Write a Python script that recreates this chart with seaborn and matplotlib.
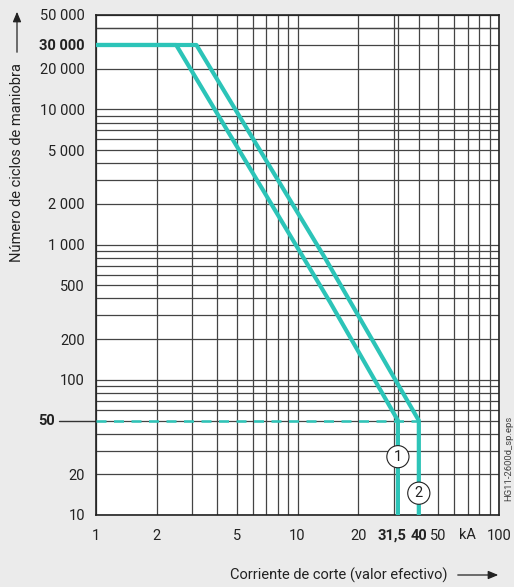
import seaborn as sns
import matplotlib.pyplot as plt
import matplotlib.patches as mpatches
import pandas as pd
from matplotlib.ticker import FixedLocator, NullFormatter
from matplotlib.transforms import ScaledTranslation

# curve data (kA, operations)
curve1_x = [1, 2.5, 14.5, 31.5, 31.5]
curve1_y = [30000, 30000, 376, 50, 10]
curve2_x = [1, 3.15, 13.7, 40, 40]
curve2_y = [30000, 30000, 796, 50, 10]
limit_x = [1, 40]
limit_y = [50, 50]

x_ticks = [1, 2, 5, 10, 20, 31.5, 40, 50, 100]
x_labels = ['1', '2', '5', '10', '20', '31,5', '40', '50', '100']
x_bold = ['31,5', '40']
y_ticks = [10, 20, 50, 100, 200, 500, 1000, 2000, 5000, 10000, 20000, 30000, 50000]
y_labels = ['10', '20', '', '100', '200', '500', '1 000', '2 000', '5 000',
            '10 000', '20 000', '30 000', '50 000']
y_bold = ['30 000']

marker_x = [31.5, 40]
marker_y = [27, 14.5]
marker_text = ['1', '2']

teal = '#2cc4b8'
grid_col = '#444444'
ink = '#222222'

sns.set_style('white')
plt.rcParams['font.family'] = ['Roboto', 'DejaVu Sans']
plt.rcParams['font.size'] = 10.5

fig = plt.figure(figsize=(5.14, 5.87), dpi=100, facecolor='#ebebeb')
ax = fig.add_axes([96/514, 72/587, 403/514, 500/587])
ax.set_facecolor('white')

df = pd.concat([
    pd.DataFrame({'x': curve1_x, 'y': curve1_y, 'curve': '1'}),
    pd.DataFrame({'x': curve2_x, 'y': curve2_y, 'curve': '2'}),
], ignore_index=True)

ax.set_xscale('log')
ax.set_yscale('log')

# grid on every decade subdivision
minor_x = [m * 10**d for d in range(0, 2) for m in range(1, 10)] + [100]
minor_y = [m * 10**d for d in range(1, 5) for m in range(1, 10)] + [20000, 30000, 40000, 50000]
ax.xaxis.set_minor_locator(FixedLocator(minor_x))
ax.yaxis.set_minor_locator(FixedLocator(minor_y))
ax.xaxis.set_minor_formatter(NullFormatter())
ax.yaxis.set_minor_formatter(NullFormatter())
ax.grid(True, which='both', color=grid_col, lw=0.9)
ax.tick_params(which='minor', length=0)

ax.plot(limit_x, limit_y, color=teal, lw=1.8, dashes=(4, 3), zorder=3)
sns.lineplot(data=df, x='x', y='y', hue='curve', estimator=None, sort=False,
             palette=[teal, teal], lw=3, legend=False, ax=ax)
for ln in ax.lines:
    ln.set_zorder(4)

ax.set_xlim(1, 100)
ax.set_ylim(10, 50000)
ax.set_xticks(x_ticks)
ax.set_xticklabels(x_labels)
ax.set_yticks(y_ticks)
ax.set_yticklabels(y_labels)
ax.tick_params(which='major', direction='out', length=5, width=1, color='#333333',
               labelcolor=ink, labelsize=10.5, pad=3)
ax.tick_params(axis='x', pad=5)
for t in ax.get_xticklabels():
    if t.get_text() in x_bold:
        t.set_fontweight('bold')
    if t.get_text() == '31,5':
        t.set_transform(t.get_transform() + ScaledTranslation(-6/100, 0, fig.dpi_scale_trans))
for t in ax.get_yticklabels():
    if t.get_text() in y_bold:
        t.set_fontweight('bold')
ax.set_xlabel('')
ax.set_ylabel('')

for s in ax.spines.values():
    s.set_color(ink)
    s.set_linewidth(1.2)

# the emphasised 50 line on the y axis
yt = ax.get_yaxis_transform()
ax.plot([-0.092, 0], [50, 50], color='#333333', lw=1, transform=yt, clip_on=False)
ax.text(-0.102, 50, '50', transform=yt, ha='right', va='center', fontweight='bold',
        fontsize=10.5, color=ink)
ax.text(70, 10 / 10**(13/135.2), 'kA', ha='center', va='top', fontsize=10.5, color=ink)

for mx, my, mt in zip(marker_x, marker_y, marker_text):
    ax.text(mx, my, mt, ha='center', va='center', fontsize=10.5, zorder=6, color=ink,
            bbox=dict(boxstyle='circle,pad=0.28', fc='white', ec=ink, lw=0.8))

# axis titles with arrows
fig.text(17/514, 1 - 63/587, 'Número de ciclos de maniobra', rotation=90,
         ha='center', va='top', fontsize=10.5, color=ink)
fig.patches.append(mpatches.FancyArrowPatch(
    (17/514, 1 - 55/587), (17/514, 1 - 9/587), transform=fig.transFigure,
    arrowstyle='-|>,head_length=6,head_width=2.5', color=ink, lw=0.9))
fig.text(448/514, 1 - 575/587, 'Corriente de corte (valor efectivo)',
         ha='right', va='center', fontsize=10.5, color=ink)
fig.patches.append(mpatches.FancyArrowPatch(
    (455/514, 1 - 575/587), (501/514, 1 - 575/587), transform=fig.transFigure,
    arrowstyle='-|>,head_length=6,head_width=2.5', color=ink, lw=0.9))
fig.text(509/514, 1 - 458/587, 'HG11-2600d_sp.eps', rotation=90, ha='center',
         va='center', fontsize=6.8, color='#444444')

fig.savefig('out.png', dpi=100, facecolor=fig.get_facecolor())
